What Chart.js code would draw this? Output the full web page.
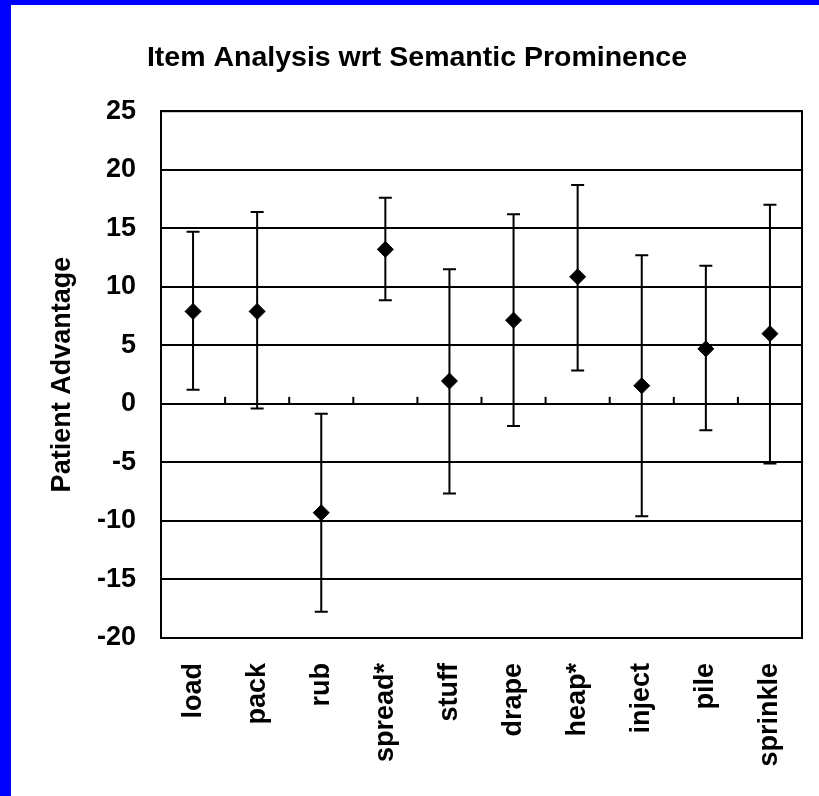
<!DOCTYPE html>
<html>
<head>
<meta charset="utf-8">
<script src="https://cdn.jsdelivr.net/npm/chart.js@4.4.1/dist/chart.umd.min.js"></script>
<style>
  html, body { margin: 0; padding: 0; background: #0000ff; }
  #wrap { position: absolute; left: 11px; top: 5px; width: 808px; height: 791px; background: #ffffff; }
</style>
</head>
<body>
<div id="wrap"><canvas id="chart"></canvas></div>
<script>
// values
const items = ['load', 'pack', 'rub', 'spread*', 'stuff', 'drape', 'heap*', 'inject', 'pile', 'sprinkle'];
const means = [7.9, 7.9, -9.3, 13.2, 1.95, 7.15, 10.85, 1.55, 4.7, 6.0];
const upper = [14.7, 16.4, -0.85, 17.6, 11.5, 16.2, 18.7, 12.7, 11.8, 17.0];
const lower = [1.2, -0.4, -17.75, 8.85, -7.65, -1.9, 2.85, -9.6, -2.25, -5.1];

const FONT = "'Liberation Sans', Arial, sans-serif";

// error bars, little ticks on the zero line and the box round the plot
const extras = {
    id: 'extras',
    beforeDatasetsDraw(chart) {
        const ctx = chart.ctx;
        const x = chart.scales.x;
        const y = chart.scales.y;
        const area = chart.chartArea;
        ctx.save();
        ctx.strokeStyle = '#000';
        ctx.lineWidth = 2;

        // tick marks between categories, pointing up from zero
        const y0 = y.getPixelForValue(0);
        for (let i = 0; i < items.length - 1; i++) {
            const xb = (x.getPixelForValue(i) + x.getPixelForValue(i + 1)) / 2;
            ctx.beginPath();
            ctx.moveTo(xb, y0);
            ctx.lineTo(xb, y0 - 7);
            ctx.stroke();
        }

        // whiskers
        for (let i = 0; i < items.length; i++) {
            const xc = x.getPixelForValue(i);
            const yt = y.getPixelForValue(upper[i]);
            const yb = y.getPixelForValue(lower[i]);
            ctx.beginPath();
            ctx.moveTo(xc, yt);
            ctx.lineTo(xc, yb);
            ctx.moveTo(xc - 6.5, yt);
            ctx.lineTo(xc + 6.5, yt);
            ctx.moveTo(xc - 6.5, yb);
            ctx.lineTo(xc + 6.5, yb);
            ctx.stroke();
        }

        ctx.strokeRect(area.left, area.top, area.right - area.left, area.bottom - area.top);
        ctx.restore();
    }
};

const ctx = document.getElementById('chart').getContext('2d');
new Chart(ctx, {
    type: 'line',
    data: {
        labels: items,
        datasets: [{
            label: 'Patient Advantage',
            data: means,
            showLine: false,
            pointStyle: 'rectRot',
            pointRadius: 8,
            pointHoverRadius: 8,
            pointBackgroundColor: '#000',
            pointBorderColor: '#000',
            pointBorderWidth: 1
        }]
    },
    options: {
        responsive: true,
        maintainAspectRatio: false,
        animation: false,
        events: [],
        layout: { padding: { left: 21, right: 17, top: 0, bottom: 0 } },
        plugins: {
            legend: { display: false },
            tooltip: { enabled: false },
            title: {
                display: true,
                text: 'Item Analysis wrt Semantic Prominence',
                color: '#000',
                font: { family: FONT, size: 28.5, weight: 'bold' },
                padding: { top: 36, bottom: 36 }
            }
        },
        scales: {
            x: {
                offset: true,
                grid: { display: false, drawTicks: false, offset: true },
                border: { display: false },
                ticks: {
                    color: '#000',
                    font: { family: FONT, size: 27, weight: 'bold' },
                    minRotation: 90,
                    maxRotation: 90,
                    padding: 25,
                    autoSkip: false
                },
                afterFit(scale) {
                    scale.height = 158;
                    scale.paddingLeft = 0;
                    scale.paddingRight = 0;
                }
            },
            y: {
                min: -20,
                max: 25,
                grid: { color: '#000', lineWidth: 2, drawTicks: false },
                border: { display: true, color: '#000', width: 2 },
                ticks: {
                    stepSize: 5,
                    color: '#000',
                    font: { family: FONT, size: 27, weight: 'bold' },
                    padding: 25
                },
                title: {
                    display: true,
                    text: 'Patient Advantage',
                    color: '#000',
                    font: { family: FONT, size: 27, weight: 'bold' },
                    padding: { top: 14, bottom: 0 }
                },
                afterFit(scale) { scale.width = 129; }
            }
        }
    },
    plugins: [extras]
});
</script>
</body>
</html>
